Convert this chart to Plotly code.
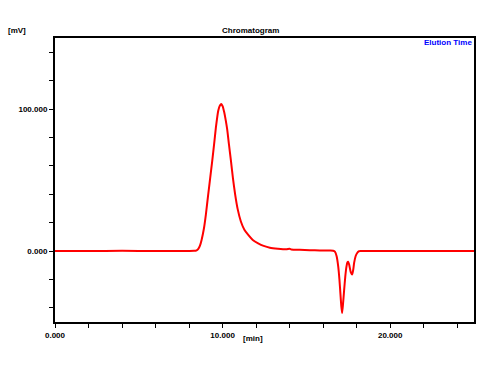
import plotly.graph_objects as go

# Digitized chromatogram (time in min, signal in mV)
time_min = [0, 2, 4, 6, 8, 8.3, 8.45, 8.55, 8.65, 8.75, 8.88, 9.0, 9.14, 9.26, 9.38, 9.5, 9.6,
            9.74, 9.84, 9.92, 10.0, 10.1, 10.18, 10.27, 10.38, 10.5, 10.62, 10.75, 10.9, 11.09,
            11.3, 11.53, 11.8, 12.12, 12.45, 12.82, 13.3, 13.8, 14.0, 14.1, 14.6, 15.2, 15.8,
            16.4, 16.6, 16.7, 16.8, 16.9, 16.97, 17.03, 17.08, 17.13, 17.18, 17.25, 17.32,
            17.39, 17.45, 17.49, 17.55, 17.65, 17.73, 17.79, 17.85, 17.94, 18.03, 18.12, 18.19,
            18.4, 20, 22, 25]
signal_mv = [0, 0, 0.1, 0, 0, 0.1, 0.5, 1.5, 3.8, 8.0, 15.5, 25.5, 39.7, 51.5, 63.3, 76, 87,
             98.8, 102.5, 103.5, 102, 97.5, 92.5, 86, 75, 63.3, 51, 39.7, 29.5, 20.8,
             15, 11.3, 7.8, 5.4, 3.6, 2.3, 1.6, 1.2, 1.6, 1.1, 0.8, 0.6, 0.4,
             0.3, 0.2, -0.5, -3.5, -11, -20, -30, -38.5, -43.7, -38, -27.7, -18,
             -11, -8, -7.6, -9.5, -15, -16.5, -13.5, -8.2, -3.5, -1.4, -0.3, 0,
             0, 0, 0, 0]

x_ticks = [0, 2, 4, 6, 8, 10, 12, 14, 16, 18, 20, 22, 24]
x_labels = ["0.000", "", "", "", "", "10.000", "", "", "", "", "20.000", "", ""]
y_ticks = [-40, -20, 0, 20, 40, 60, 80, 100, 120, 140]
y_labels = ["", "", "0.000", "", "", "", "", "100.000", "", ""]

W, H, L, R, T, B = 500, 368, 55, 26, 38, 46
pw, ph = W - L - R, H - T - B

fig = go.Figure()
fig.add_trace(go.Scatter(x=time_min, y=signal_mv, mode="lines",
                         line=dict(color="#ff0000", width=2, shape="spline", smoothing=0.5),
                         hoverinfo="skip", showlegend=False))

tickfont = dict(family="Liberation Sans, Arial, sans-serif", size=8, color="black", weight="bold")
fig.update_layout(
    width=W, height=H,
    margin=dict(l=L, r=R, t=T, b=B),
    paper_bgcolor="white", plot_bgcolor="white",
    xaxis=dict(range=[0, 25], tickvals=x_ticks, ticktext=x_labels, ticks="outside",
               ticklen=4, tickwidth=1, tickcolor="black", showline=True, linecolor="black",
               linewidth=2, mirror=True, showgrid=False, zeroline=False, tickfont=tickfont),
    yaxis=dict(range=[-50, 150], tickvals=y_ticks, ticktext=y_labels, ticks="outside",
               ticklen=4, tickwidth=1, tickcolor="black", showline=True, linecolor="black",
               linewidth=2, mirror=True, showgrid=False, zeroline=False, tickfont=tickfont),
    font=dict(family="Liberation Sans, Arial, sans-serif", size=8, color="black"),
)


def px(x):
    return (x - L) / pw


def py(y):
    return (H - B - y) / ph


afont = dict(family="Liberation Sans, Arial, sans-serif", size=8, color="black", weight="bold")
fig.add_annotation(text="Chromatogram", x=px(250), y=py(31), xref="paper", yref="paper",
                   showarrow=False, font=afont, xanchor="center", yanchor="middle")
fig.add_annotation(text="[mV]", x=px(6), y=py(31), xref="paper", yref="paper",
                   showarrow=False, font=afont, xanchor="left", yanchor="middle")
fig.add_annotation(text="[min]", x=px(241), y=py(338), xref="paper", yref="paper",
                   showarrow=False, font=afont, xanchor="left", yanchor="middle")
fig.add_annotation(text="Elution Time", x=px(474), y=py(43), xref="paper", yref="paper",
                   showarrow=False, font=dict(family="Liberation Sans, Arial, sans-serif",
                                              size=8, color="#0000ff", weight="bold"),
                   xanchor="right", yanchor="middle")

fig.write_html("out.html", config={"displayModeBar": False},
               post_script="document.body.style.margin='0';")
